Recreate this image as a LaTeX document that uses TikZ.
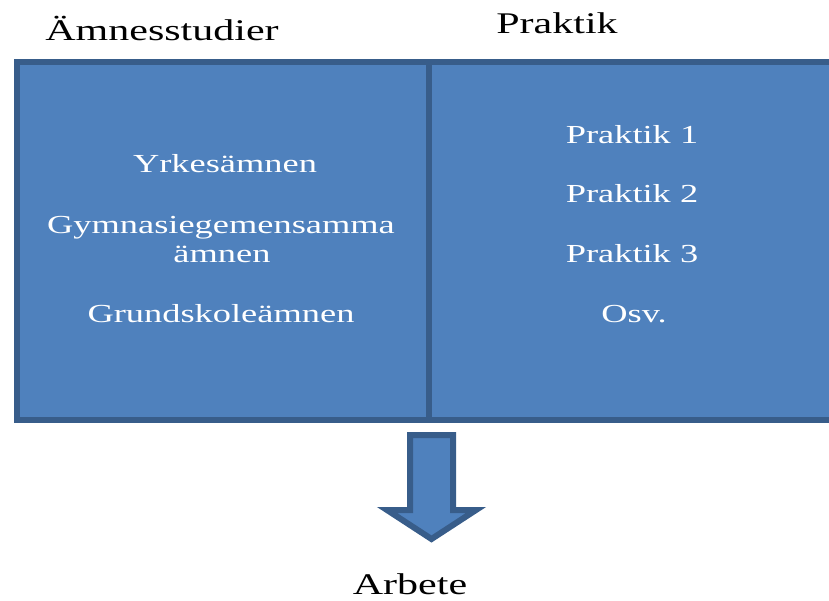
\documentclass[tikz,border=0pt]{standalone}
\usepackage{fontspec}
\setmainfont{Liberation Serif}
\definecolor{boxfill}{HTML}{4F81BD}
\definecolor{boxline}{HTML}{385D8A}
\newcommand{\wtext}[1]{\scalebox{1.4}[1]{#1}}
\tikzset{
  panel/.style={fill=boxfill, draw=boxline, line width=6pt, line join=miter},
  boxtext/.style={anchor=base, inner sep=0pt, text=white, font=\fontsize{26}{29}\selectfont},
  titletext/.style={anchor=base, inner sep=0pt, text=black, font=\fontsize{30}{33}\selectfont},
  blockarrow/.style={fill=boxfill, draw=boxline, line width=6pt, line join=miter}
}
\begin{document}
\begin{tikzpicture}[x=1pt,y=-1pt]
\useasboundingbox (0,0) rectangle (829,601);
\clip (0,0) rectangle (829,601);
% panels
\draw[panel] (17,62) rectangle (429,420);
\draw[panel] (429,62) rectangle (835,420);
% titles
\node[titletext] (t1) at (162,41) {\wtext{Ämnesstudier}};
\node[titletext] (t2) at (557,34) {\wtext{Praktik}};
% left contents
\node[boxtext] (l1) at (225,173) {\wtext{Yrkesämnen}};
\node[boxtext] (l2) at (221,234) {\wtext{Gymnasiegemensamma}};
\node[boxtext] (l3) at (222,263) {\wtext{ämnen}};
\node[boxtext] (l4) at (221,323) {\wtext{Grundskoleämnen}};
% right contents
\node[boxtext] (r1) at (632,144) {\wtext{Praktik 1}};
\node[boxtext] (r2) at (632,203) {\wtext{Praktik 2}};
\node[boxtext] (r3) at (632,263) {\wtext{Praktik 3}};
\node[boxtext] (r4) at (634,323) {\wtext{Osv.}};
% arrow
\draw[blockarrow] (410,435) -- (453,435) -- (453,510) -- (476,510) -- (431.5,539)
  -- (387,510) -- (410,510) -- cycle;
% result
\node[titletext] (res) at (410,594) {\wtext{Arbete}};
\end{tikzpicture}
\end{document}
